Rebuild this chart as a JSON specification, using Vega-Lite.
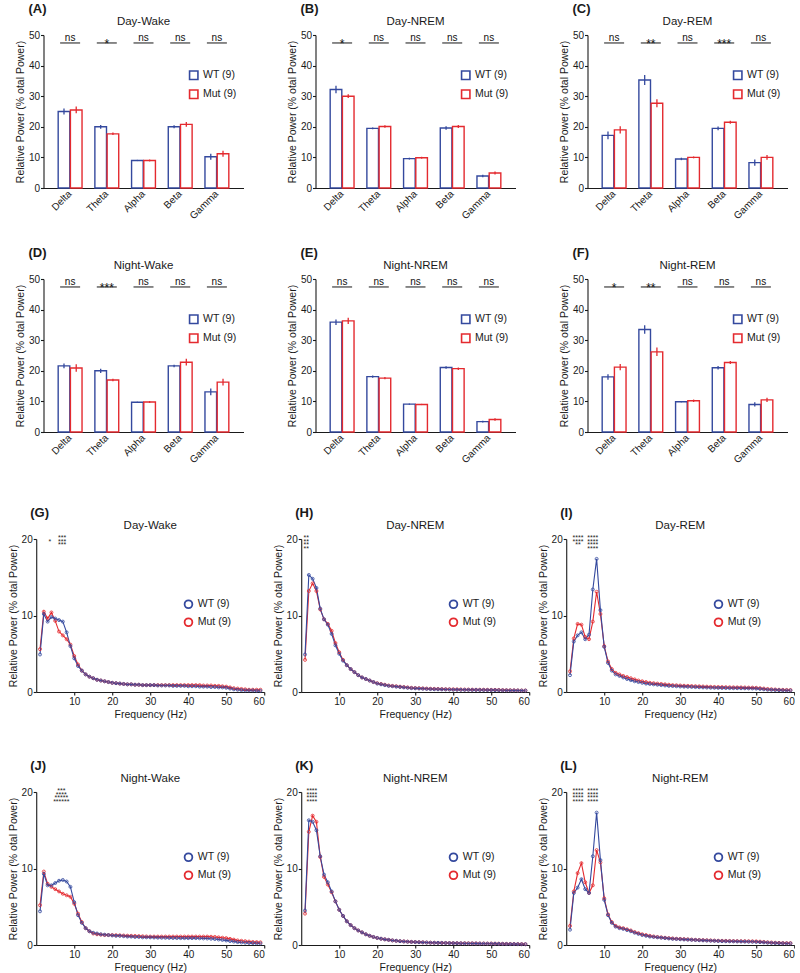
{
  "$schema": "https://vega.github.io/schema/vega-lite/v6.json",
  "background": "white",
  "padding": {"left": 8, "top": 2, "right": 0, "bottom": 0},
  "spacing": 41,
  "center": true,
  "resolve": {"scale": {"color": "independent"}, "legend": {"color": "independent"}},
  "datasets": {
    "bars": [
      {"p": "A", "b": "Delta", "g": "WT", "m": 25.0, "s": 1.0, "sig": "ns"},
      {"p": "A", "b": "Delta", "g": "Mut", "m": 25.5, "s": 1.1},
      {"p": "A", "b": "Theta", "g": "WT", "m": 20.0, "s": 0.6, "sig": "*"},
      {"p": "A", "b": "Theta", "g": "Mut", "m": 17.7, "s": 0.4},
      {"p": "A", "b": "Alpha", "g": "WT", "m": 9.0, "s": 0.2, "sig": "ns"},
      {"p": "A", "b": "Alpha", "g": "Mut", "m": 9.0, "s": 0.3},
      {"p": "A", "b": "Beta", "g": "WT", "m": 20.0, "s": 0.5, "sig": "ns"},
      {"p": "A", "b": "Beta", "g": "Mut", "m": 20.8, "s": 0.8},
      {"p": "A", "b": "Gamma", "g": "WT", "m": 10.2, "s": 1.0, "sig": "ns"},
      {"p": "A", "b": "Gamma", "g": "Mut", "m": 11.2, "s": 1.0},
      {"p": "B", "b": "Delta", "g": "WT", "m": 32.2, "s": 1.2, "sig": "*"},
      {"p": "B", "b": "Delta", "g": "Mut", "m": 30.0, "s": 0.6},
      {"p": "B", "b": "Theta", "g": "WT", "m": 19.5, "s": 0.3, "sig": "ns"},
      {"p": "B", "b": "Theta", "g": "Mut", "m": 20.1, "s": 0.4},
      {"p": "B", "b": "Alpha", "g": "WT", "m": 9.6, "s": 0.3, "sig": "ns"},
      {"p": "B", "b": "Alpha", "g": "Mut", "m": 9.9, "s": 0.3},
      {"p": "B", "b": "Beta", "g": "WT", "m": 19.6, "s": 0.6, "sig": "ns"},
      {"p": "B", "b": "Beta", "g": "Mut", "m": 20.1, "s": 0.5},
      {"p": "B", "b": "Gamma", "g": "WT", "m": 3.9, "s": 0.4, "sig": "ns"},
      {"p": "B", "b": "Gamma", "g": "Mut", "m": 4.9, "s": 0.5},
      {"p": "C", "b": "Delta", "g": "WT", "m": 17.2, "s": 1.3, "sig": "ns"},
      {"p": "C", "b": "Delta", "g": "Mut", "m": 19.0, "s": 1.2},
      {"p": "C", "b": "Theta", "g": "WT", "m": 35.3, "s": 1.6, "sig": "**"},
      {"p": "C", "b": "Theta", "g": "Mut", "m": 27.7, "s": 1.3},
      {"p": "C", "b": "Alpha", "g": "WT", "m": 9.5, "s": 0.4, "sig": "ns"},
      {"p": "C", "b": "Alpha", "g": "Mut", "m": 10.0, "s": 0.3},
      {"p": "C", "b": "Beta", "g": "WT", "m": 19.5, "s": 0.6, "sig": "***"},
      {"p": "C", "b": "Beta", "g": "Mut", "m": 21.5, "s": 0.5},
      {"p": "C", "b": "Gamma", "g": "WT", "m": 8.3, "s": 1.0, "sig": "ns"},
      {"p": "C", "b": "Gamma", "g": "Mut", "m": 10.0, "s": 0.8},
      {"p": "D", "b": "Delta", "g": "WT", "m": 21.6, "s": 0.8, "sig": "ns"},
      {"p": "D", "b": "Delta", "g": "Mut", "m": 20.9, "s": 1.2},
      {"p": "D", "b": "Theta", "g": "WT", "m": 20.0, "s": 0.7, "sig": "***"},
      {"p": "D", "b": "Theta", "g": "Mut", "m": 17.0, "s": 0.4},
      {"p": "D", "b": "Alpha", "g": "WT", "m": 9.7, "s": 0.2, "sig": "ns"},
      {"p": "D", "b": "Alpha", "g": "Mut", "m": 9.8, "s": 0.3},
      {"p": "D", "b": "Beta", "g": "WT", "m": 21.6, "s": 0.4, "sig": "ns"},
      {"p": "D", "b": "Beta", "g": "Mut", "m": 22.8, "s": 1.1},
      {"p": "D", "b": "Gamma", "g": "WT", "m": 13.1, "s": 1.1, "sig": "ns"},
      {"p": "D", "b": "Gamma", "g": "Mut", "m": 16.3, "s": 1.1},
      {"p": "E", "b": "Delta", "g": "WT", "m": 35.9, "s": 0.9, "sig": "ns"},
      {"p": "E", "b": "Delta", "g": "Mut", "m": 36.3, "s": 1.0},
      {"p": "E", "b": "Theta", "g": "WT", "m": 18.1, "s": 0.4, "sig": "ns"},
      {"p": "E", "b": "Theta", "g": "Mut", "m": 17.6, "s": 0.4},
      {"p": "E", "b": "Alpha", "g": "WT", "m": 9.1, "s": 0.2, "sig": "ns"},
      {"p": "E", "b": "Alpha", "g": "Mut", "m": 9.0, "s": 0.2},
      {"p": "E", "b": "Beta", "g": "WT", "m": 21.1, "s": 0.4, "sig": "ns"},
      {"p": "E", "b": "Beta", "g": "Mut", "m": 20.7, "s": 0.4},
      {"p": "E", "b": "Gamma", "g": "WT", "m": 3.4, "s": 0.3, "sig": "ns"},
      {"p": "E", "b": "Gamma", "g": "Mut", "m": 4.1, "s": 0.4},
      {"p": "F", "b": "Delta", "g": "WT", "m": 18.0, "s": 0.9, "sig": "*"},
      {"p": "F", "b": "Delta", "g": "Mut", "m": 21.2, "s": 1.0},
      {"p": "F", "b": "Theta", "g": "WT", "m": 33.5, "s": 1.4, "sig": "**"},
      {"p": "F", "b": "Theta", "g": "Mut", "m": 26.2, "s": 1.4},
      {"p": "F", "b": "Alpha", "g": "WT", "m": 9.9, "s": 0.2, "sig": "ns"},
      {"p": "F", "b": "Alpha", "g": "Mut", "m": 10.2, "s": 0.4},
      {"p": "F", "b": "Beta", "g": "WT", "m": 21.0, "s": 0.6, "sig": "ns"},
      {"p": "F", "b": "Beta", "g": "Mut", "m": 22.7, "s": 0.5},
      {"p": "F", "b": "Gamma", "g": "WT", "m": 9.0, "s": 0.7, "sig": "ns"},
      {"p": "F", "b": "Gamma", "g": "Mut", "m": 10.5, "s": 0.7}
    ],
    "stars": [
      {"p": "G", "f": 3.6, "t": "||*"},
      {"p": "G", "f": 6.8, "t": "***|***|***"},
      {"p": "H", "f": 1.3, "t": "**|**|**|**"},
      {"p": "I", "f": 3.1, "t": "****|****|**"},
      {"p": "I", "f": 7.0, "t": "****|****|****|****"},
      {"p": "J", "f": 6.6, "t": "***|****|*****|******"},
      {"p": "K", "f": 2.8, "t": "****|****|****|****"},
      {"p": "L", "f": 3.1, "t": "****|****|****|****"},
      {"p": "L", "f": 7.0, "t": "****|****|****|****"}
    ],
    "spec": [
      {"f": 1, "GW": 4.9, "GM": 5.6, "HW": 4.9, "HM": 4.2, "IW": 2.2, "IM": 2.7, "JW": 4.4, "JM": 5.2, "KW": 4.5, "KM": 4.1, "LW": 2.0, "LM": 2.5},
      {"f": 2, "GW": 10.2, "GM": 10.5, "HW": 15.3, "HM": 13.2, "IW": 6.6, "IM": 7.0, "JW": 9.3, "JM": 9.6, "KW": 16.3, "KM": 14.8, "LW": 6.8, "LM": 7.0},
      {"f": 3, "GW": 9.2, "GM": 9.6, "HW": 14.8, "HM": 14.2, "IW": 7.4, "IM": 8.9, "JW": 7.8, "JM": 8.0, "KW": 16.1, "KM": 16.9, "LW": 7.5, "LM": 9.4},
      {"f": 4, "GW": 9.8, "GM": 10.4, "HW": 13.6, "HM": 13.2, "IW": 7.8, "IM": 8.8, "JW": 7.8, "JM": 7.6, "KW": 15.0, "KM": 16.1, "LW": 8.6, "LM": 10.7},
      {"f": 5, "GW": 9.6, "GM": 9.3, "HW": 10.9, "HM": 10.8, "IW": 6.9, "IM": 7.2, "JW": 8.1, "JM": 7.3, "KW": 11.6, "KM": 11.5, "LW": 7.3, "LM": 8.2},
      {"f": 6, "GW": 9.4, "GM": 7.9, "HW": 9.5, "HM": 9.5, "IW": 7.5, "IM": 6.9, "JW": 8.4, "JM": 7.0, "KW": 9.2, "KM": 8.9, "LW": 6.8, "LM": 6.8},
      {"f": 7, "GW": 9.2, "GM": 7.4, "HW": 8.8, "HM": 8.9, "IW": 13.4, "IM": 9.2, "JW": 8.5, "JM": 6.7, "KW": 8.2, "KM": 7.9, "LW": 11.6, "LM": 7.8},
      {"f": 8, "GW": 7.8, "GM": 6.9, "HW": 7.6, "HM": 8.0, "IW": 17.4, "IM": 13.1, "JW": 8.3, "JM": 6.5, "KW": 7.0, "KM": 6.9, "LW": 17.3, "LM": 12.4},
      {"f": 9, "GW": 6.0, "GM": 6.2, "HW": 6.1, "HM": 6.4, "IW": 10.7, "IM": 10.2, "JW": 7.6, "JM": 6.3, "KW": 5.7, "KM": 5.7, "LW": 11.1, "LM": 10.8},
      {"f": 10, "GW": 4.4, "GM": 4.7, "HW": 5.0, "HM": 5.2, "IW": 5.9, "IM": 6.0, "JW": 5.6, "JM": 5.4, "KW": 4.6, "KM": 4.6, "LW": 5.9, "LM": 6.1},
      {"f": 11, "GW": 3.4, "GM": 3.6, "HW": 4.1, "HM": 4.2, "IW": 3.8, "IM": 4.0, "JW": 3.9, "JM": 4.1, "KW": 3.8, "KM": 3.8, "LW": 3.9, "LM": 4.0},
      {"f": 12, "GW": 2.8, "GM": 2.8, "HW": 3.5, "HM": 3.5, "IW": 2.8, "IM": 3.0, "JW": 2.9, "JM": 3.0, "KW": 3.1, "KM": 3.1, "LW": 2.9, "LM": 3.0},
      {"f": 13, "GW": 2.3, "GM": 2.3, "HW": 3.0, "HM": 3.0, "IW": 2.3, "IM": 2.5, "JW": 2.2, "JM": 2.2, "KW": 2.6, "KM": 2.6, "LW": 2.4, "LM": 2.5},
      {"f": 14, "GW": 2.0, "GM": 2.0, "HW": 2.6, "HM": 2.6, "IW": 2.1, "IM": 2.3, "JW": 1.8, "JM": 1.8, "KW": 2.2, "KM": 2.2, "LW": 2.2, "LM": 2.3},
      {"f": 15, "GW": 1.8, "GM": 1.8, "HW": 2.2, "HM": 2.2, "IW": 1.9, "IM": 2.1, "JW": 1.6, "JM": 1.5, "KW": 1.9, "KM": 1.9, "LW": 2.1, "LM": 2.2},
      {"f": 16, "GW": 1.6, "GM": 1.6, "HW": 1.9, "HM": 1.9, "IW": 1.7, "IM": 1.95, "JW": 1.5, "JM": 1.4, "KW": 1.65, "KM": 1.65, "LW": 1.95, "LM": 2.05},
      {"f": 17, "GW": 1.5, "GM": 1.5, "HW": 1.7, "HM": 1.7, "IW": 1.55, "IM": 1.8, "JW": 1.4, "JM": 1.35, "KW": 1.4, "KM": 1.4, "LW": 1.8, "LM": 1.9},
      {"f": 18, "GW": 1.4, "GM": 1.4, "HW": 1.5, "HM": 1.5, "IW": 1.4, "IM": 1.65, "JW": 1.35, "JM": 1.3, "KW": 1.2, "KM": 1.2, "LW": 1.6, "LM": 1.7},
      {"f": 19, "GW": 1.3, "GM": 1.3, "HW": 1.3, "HM": 1.3, "IW": 1.3, "IM": 1.5, "JW": 1.3, "JM": 1.3, "KW": 1.05, "KM": 1.05, "LW": 1.45, "LM": 1.55},
      {"f": 20, "GW": 1.2, "GM": 1.2, "HW": 1.1, "HM": 1.15, "IW": 1.2, "IM": 1.4, "JW": 1.25, "JM": 1.3, "KW": 0.92, "KM": 0.92, "LW": 1.3, "LM": 1.4},
      {"f": 21, "GW": 1.15, "GM": 1.15, "HW": 1.0, "HM": 1.05, "IW": 1.1, "IM": 1.3, "JW": 1.2, "JM": 1.28, "KW": 0.82, "KM": 0.82, "LW": 1.2, "LM": 1.3},
      {"f": 22, "GW": 1.1, "GM": 1.1, "HW": 0.9, "HM": 0.95, "IW": 1.05, "IM": 1.2, "JW": 1.2, "JM": 1.26, "KW": 0.74, "KM": 0.74, "LW": 1.1, "LM": 1.2},
      {"f": 23, "GW": 1.05, "GM": 1.05, "HW": 0.8, "HM": 0.85, "IW": 1.0, "IM": 1.15, "JW": 1.15, "JM": 1.24, "KW": 0.67, "KM": 0.67, "LW": 1.05, "LM": 1.12},
      {"f": 24, "GW": 1.0, "GM": 1.0, "HW": 0.75, "HM": 0.8, "IW": 0.95, "IM": 1.1, "JW": 1.1, "JM": 1.22, "KW": 0.6, "KM": 0.6, "LW": 1.0, "LM": 1.05},
      {"f": 25, "GW": 1.0, "GM": 1.0, "HW": 0.7, "HM": 0.75, "IW": 0.9, "IM": 1.05, "JW": 1.1, "JM": 1.2, "KW": 0.55, "KM": 0.55, "LW": 0.95, "LM": 1.0},
      {"f": 26, "GW": 0.95, "GM": 0.95, "HW": 0.65, "HM": 0.7, "IW": 0.85, "IM": 1.0, "JW": 1.05, "JM": 1.18, "KW": 0.5, "KM": 0.5, "LW": 0.9, "LM": 0.95},
      {"f": 27, "GW": 0.95, "GM": 0.95, "HW": 0.6, "HM": 0.65, "IW": 0.8, "IM": 0.95, "JW": 1.05, "JM": 1.16, "KW": 0.46, "KM": 0.47, "LW": 0.85, "LM": 0.9},
      {"f": 28, "GW": 0.9, "GM": 0.9, "HW": 0.55, "HM": 0.6, "IW": 0.78, "IM": 0.9, "JW": 1.0, "JM": 1.14, "KW": 0.43, "KM": 0.44, "LW": 0.8, "LM": 0.86},
      {"f": 29, "GW": 0.9, "GM": 0.9, "HW": 0.5, "HM": 0.55, "IW": 0.75, "IM": 0.88, "JW": 1.0, "JM": 1.12, "KW": 0.4, "KM": 0.41, "LW": 0.78, "LM": 0.82},
      {"f": 30, "GW": 0.9, "GM": 0.9, "HW": 0.48, "HM": 0.52, "IW": 0.72, "IM": 0.85, "JW": 1.0, "JM": 1.1, "KW": 0.38, "KM": 0.39, "LW": 0.75, "LM": 0.8},
      {"f": 31, "GW": 0.9, "GM": 0.9, "HW": 0.45, "HM": 0.5, "IW": 0.7, "IM": 0.82, "JW": 0.98, "JM": 1.1, "KW": 0.36, "KM": 0.37, "LW": 0.72, "LM": 0.77},
      {"f": 32, "GW": 0.85, "GM": 0.9, "HW": 0.43, "HM": 0.47, "IW": 0.68, "IM": 0.8, "JW": 0.96, "JM": 1.1, "KW": 0.34, "KM": 0.35, "LW": 0.7, "LM": 0.74},
      {"f": 33, "GW": 0.85, "GM": 0.9, "HW": 0.4, "HM": 0.45, "IW": 0.66, "IM": 0.78, "JW": 0.95, "JM": 1.1, "KW": 0.32, "KM": 0.33, "LW": 0.67, "LM": 0.71},
      {"f": 34, "GW": 0.85, "GM": 0.9, "HW": 0.38, "HM": 0.43, "IW": 0.64, "IM": 0.76, "JW": 0.94, "JM": 1.1, "KW": 0.3, "KM": 0.31, "LW": 0.65, "LM": 0.68},
      {"f": 35, "GW": 0.85, "GM": 0.9, "HW": 0.36, "HM": 0.41, "IW": 0.62, "IM": 0.74, "JW": 0.93, "JM": 1.1, "KW": 0.29, "KM": 0.3, "LW": 0.62, "LM": 0.66},
      {"f": 36, "GW": 0.8, "GM": 0.9, "HW": 0.35, "HM": 0.4, "IW": 0.6, "IM": 0.72, "JW": 0.92, "JM": 1.1, "KW": 0.28, "KM": 0.29, "LW": 0.6, "LM": 0.64},
      {"f": 37, "GW": 0.8, "GM": 0.9, "HW": 0.34, "HM": 0.38, "IW": 0.58, "IM": 0.7, "JW": 0.91, "JM": 1.1, "KW": 0.27, "KM": 0.28, "LW": 0.58, "LM": 0.62},
      {"f": 38, "GW": 0.8, "GM": 0.9, "HW": 0.33, "HM": 0.37, "IW": 0.56, "IM": 0.68, "JW": 0.9, "JM": 1.1, "KW": 0.26, "KM": 0.27, "LW": 0.56, "LM": 0.6},
      {"f": 39, "GW": 0.8, "GM": 0.9, "HW": 0.32, "HM": 0.36, "IW": 0.55, "IM": 0.66, "JW": 0.9, "JM": 1.1, "KW": 0.25, "KM": 0.26, "LW": 0.54, "LM": 0.58},
      {"f": 40, "GW": 0.75, "GM": 0.9, "HW": 0.3, "HM": 0.35, "IW": 0.54, "IM": 0.65, "JW": 0.9, "JM": 1.1, "KW": 0.24, "KM": 0.25, "LW": 0.52, "LM": 0.56},
      {"f": 41, "GW": 0.75, "GM": 0.9, "HW": 0.3, "HM": 0.34, "IW": 0.53, "IM": 0.64, "JW": 0.9, "JM": 1.1, "KW": 0.23, "KM": 0.24, "LW": 0.5, "LM": 0.55},
      {"f": 42, "GW": 0.75, "GM": 0.9, "HW": 0.29, "HM": 0.33, "IW": 0.52, "IM": 0.63, "JW": 0.9, "JM": 1.1, "KW": 0.22, "KM": 0.23, "LW": 0.49, "LM": 0.54},
      {"f": 43, "GW": 0.7, "GM": 0.9, "HW": 0.28, "HM": 0.32, "IW": 0.51, "IM": 0.62, "JW": 0.88, "JM": 1.1, "KW": 0.21, "KM": 0.23, "LW": 0.48, "LM": 0.53},
      {"f": 44, "GW": 0.7, "GM": 0.85, "HW": 0.28, "HM": 0.32, "IW": 0.5, "IM": 0.61, "JW": 0.86, "JM": 1.1, "KW": 0.2, "KM": 0.22, "LW": 0.47, "LM": 0.52},
      {"f": 45, "GW": 0.7, "GM": 0.85, "HW": 0.27, "HM": 0.31, "IW": 0.5, "IM": 0.6, "JW": 0.85, "JM": 1.1, "KW": 0.2, "KM": 0.22, "LW": 0.46, "LM": 0.51},
      {"f": 46, "GW": 0.65, "GM": 0.85, "HW": 0.27, "HM": 0.3, "IW": 0.49, "IM": 0.6, "JW": 0.82, "JM": 1.08, "KW": 0.19, "KM": 0.21, "LW": 0.45, "LM": 0.5},
      {"f": 47, "GW": 0.65, "GM": 0.8, "HW": 0.26, "HM": 0.3, "IW": 0.48, "IM": 0.59, "JW": 0.78, "JM": 1.05, "KW": 0.18, "KM": 0.2, "LW": 0.44, "LM": 0.5},
      {"f": 48, "GW": 0.6, "GM": 0.8, "HW": 0.26, "HM": 0.3, "IW": 0.47, "IM": 0.58, "JW": 0.72, "JM": 1.0, "KW": 0.18, "KM": 0.2, "LW": 0.43, "LM": 0.49},
      {"f": 49, "GW": 0.6, "GM": 0.75, "HW": 0.25, "HM": 0.29, "IW": 0.46, "IM": 0.57, "JW": 0.66, "JM": 0.95, "KW": 0.17, "KM": 0.19, "LW": 0.42, "LM": 0.48},
      {"f": 50, "GW": 0.55, "GM": 0.7, "HW": 0.25, "HM": 0.28, "IW": 0.44, "IM": 0.55, "JW": 0.6, "JM": 0.9, "KW": 0.17, "KM": 0.19, "LW": 0.4, "LM": 0.47},
      {"f": 51, "GW": 0.45, "GM": 0.6, "HW": 0.24, "HM": 0.28, "IW": 0.4, "IM": 0.5, "JW": 0.52, "JM": 0.8, "KW": 0.16, "KM": 0.18, "LW": 0.37, "LM": 0.44},
      {"f": 52, "GW": 0.35, "GM": 0.5, "HW": 0.23, "HM": 0.27, "IW": 0.35, "IM": 0.45, "JW": 0.45, "JM": 0.7, "KW": 0.15, "KM": 0.17, "LW": 0.34, "LM": 0.4},
      {"f": 53, "GW": 0.3, "GM": 0.45, "HW": 0.22, "HM": 0.25, "IW": 0.3, "IM": 0.4, "JW": 0.38, "JM": 0.6, "KW": 0.14, "KM": 0.16, "LW": 0.3, "LM": 0.36},
      {"f": 54, "GW": 0.25, "GM": 0.4, "HW": 0.21, "HM": 0.24, "IW": 0.28, "IM": 0.36, "JW": 0.33, "JM": 0.55, "KW": 0.13, "KM": 0.15, "LW": 0.27, "LM": 0.33},
      {"f": 55, "GW": 0.2, "GM": 0.35, "HW": 0.2, "HM": 0.23, "IW": 0.26, "IM": 0.33, "JW": 0.3, "JM": 0.5, "KW": 0.12, "KM": 0.14, "LW": 0.25, "LM": 0.3},
      {"f": 56, "GW": 0.2, "GM": 0.3, "HW": 0.2, "HM": 0.22, "IW": 0.24, "IM": 0.3, "JW": 0.27, "JM": 0.45, "KW": 0.12, "KM": 0.13, "LW": 0.23, "LM": 0.28},
      {"f": 57, "GW": 0.2, "GM": 0.3, "HW": 0.19, "HM": 0.21, "IW": 0.22, "IM": 0.28, "JW": 0.25, "JM": 0.4, "KW": 0.11, "KM": 0.12, "LW": 0.22, "LM": 0.26},
      {"f": 58, "GW": 0.15, "GM": 0.3, "HW": 0.18, "HM": 0.2, "IW": 0.2, "IM": 0.27, "JW": 0.22, "JM": 0.38, "KW": 0.1, "KM": 0.12, "LW": 0.2, "LM": 0.25},
      {"f": 59, "GW": 0.15, "GM": 0.3, "HW": 0.18, "HM": 0.2, "IW": 0.2, "IM": 0.26, "JW": 0.2, "JM": 0.35, "KW": 0.1, "KM": 0.11, "LW": 0.2, "LM": 0.25}
    ]
  },
  "vconcat": [
    {
      "spacing": 25,
      "resolve": {"scale": {"color": "independent"}, "legend": {"color": "independent"}},
      "vconcat": [
        {
          "spacing": 43,
          "resolve": {"scale": {"color": "independent"}, "legend": {"color": "independent"}},
          "hconcat": [
            {
              "title": {"text": "(A)", "anchor": "start", "frame": "group", "fontWeight": "bold", "fontSize": 13, "dx": -15, "offset": 0},
              "resolve": {"scale": {"color": "independent"}, "legend": {"color": "independent"}},
              "hconcat": [{
                "title": {"text": "Day-Wake", "frame": "group", "offset": 3},
                "width": 200, "height": 153,
                "data": {"name": "bars"},
                "transform": [{"filter": "datum.p == 'A'"}],
                "encoding": {
                  "x": {"field": "b", "type": "nominal", "sort": ["Delta", "Theta", "Alpha", "Beta", "Gamma"], "scale": {"paddingInner": 0.35, "paddingOuter": 0.4}, "title": null, "axis": {"labelAngle": -45, "labelAlign": "right", "labelBaseline": "middle", "ticks": false, "labelPadding": 4}},
                  "y": {"field": "m", "type": "quantitative", "scale": {"domain": [0, 50], "nice": false}, "axis": {"values": [0, 10, 20, 30, 40, 50]}, "title": "Relative Power (% otal Power)"}
                },
                "layer": [
                  {"mark": {"type": "bar", "filled": false, "strokeWidth": 1.4},
                   "encoding": {"xOffset": {"field": "g", "type": "nominal", "scale": {"domain": ["WT", "Mut"], "paddingInner": 0.05}},
                     "color": {"field": "g", "type": "nominal", "scale": {"domain": ["WT", "Mut"], "range": ["#34499e", "#e42a2f"]}, "legend": {"title": null, "orient": "none", "legendX": 145, "legendY": 35, "symbolType": "square", "symbolSize": 70, "symbolStrokeWidth": 1.6, "labelFontSize": 10.5, "rowPadding": 3, "padding": 0, "labelExpr": "datum.label + ' (9)'"}}}},
                  {"mark": {"type": "errorbar", "thickness": 1.3},
                   "encoding": {"xOffset": {"field": "g", "type": "nominal"}, "yError": {"field": "s"}, "color": {"field": "g", "type": "nominal"}}},
                  {"transform": [{"filter": "datum.sig"}], "mark": {"type": "tick", "size": 20, "thickness": 1.4, "color": "#111"}, "encoding": {"y": {"datum": 47.4}}},
                  {"transform": [{"filter": "datum.sig == 'ns'"}], "mark": {"type": "text", "fontSize": 10, "baseline": "alphabetic", "dy": -2, "color": "#111"}, "encoding": {"y": {"datum": 47.4}, "text": {"field": "sig"}}},
                  {"transform": [{"filter": "datum.sig && datum.sig != 'ns'"}], "mark": {"type": "text", "fontSize": 12, "baseline": "alphabetic", "dy": 5, "color": "#111"}, "encoding": {"y": {"datum": 47.4}, "text": {"field": "sig"}}}
                ]
              }]
            },
            {
              "title": {"text": "(B)", "anchor": "start", "frame": "group", "fontWeight": "bold", "fontSize": 13, "dx": -15, "offset": 0},
              "resolve": {"scale": {"color": "independent"}, "legend": {"color": "independent"}},
              "hconcat": [{
                "title": {"text": "Day-NREM", "frame": "group", "offset": 3},
                "width": 200, "height": 153,
                "data": {"name": "bars"},
                "transform": [{"filter": "datum.p == 'B'"}],
                "encoding": {
                  "x": {"field": "b", "type": "nominal", "sort": ["Delta", "Theta", "Alpha", "Beta", "Gamma"], "scale": {"paddingInner": 0.35, "paddingOuter": 0.4}, "title": null, "axis": {"labelAngle": -45, "labelAlign": "right", "labelBaseline": "middle", "ticks": false, "labelPadding": 4}},
                  "y": {"field": "m", "type": "quantitative", "scale": {"domain": [0, 50], "nice": false}, "axis": {"values": [0, 10, 20, 30, 40, 50]}, "title": "Relative Power (% otal Power)"}
                },
                "layer": [
                  {"mark": {"type": "bar", "filled": false, "strokeWidth": 1.4},
                   "encoding": {"xOffset": {"field": "g", "type": "nominal", "scale": {"domain": ["WT", "Mut"], "paddingInner": 0.05}},
                     "color": {"field": "g", "type": "nominal", "scale": {"domain": ["WT", "Mut"], "range": ["#34499e", "#e42a2f"]}, "legend": {"title": null, "orient": "none", "legendX": 145, "legendY": 35, "symbolType": "square", "symbolSize": 70, "symbolStrokeWidth": 1.6, "labelFontSize": 10.5, "rowPadding": 3, "padding": 0, "labelExpr": "datum.label + ' (9)'"}}}},
                  {"mark": {"type": "errorbar", "thickness": 1.3},
                   "encoding": {"xOffset": {"field": "g", "type": "nominal"}, "yError": {"field": "s"}, "color": {"field": "g", "type": "nominal"}}},
                  {"transform": [{"filter": "datum.sig"}], "mark": {"type": "tick", "size": 20, "thickness": 1.4, "color": "#111"}, "encoding": {"y": {"datum": 47.4}}},
                  {"transform": [{"filter": "datum.sig == 'ns'"}], "mark": {"type": "text", "fontSize": 10, "baseline": "alphabetic", "dy": -2, "color": "#111"}, "encoding": {"y": {"datum": 47.4}, "text": {"field": "sig"}}},
                  {"transform": [{"filter": "datum.sig && datum.sig != 'ns'"}], "mark": {"type": "text", "fontSize": 12, "baseline": "alphabetic", "dy": 5, "color": "#111"}, "encoding": {"y": {"datum": 47.4}, "text": {"field": "sig"}}}
                ]
              }]
            },
            {
              "title": {"text": "(C)", "anchor": "start", "frame": "group", "fontWeight": "bold", "fontSize": 13, "dx": -15, "offset": 0},
              "resolve": {"scale": {"color": "independent"}, "legend": {"color": "independent"}},
              "hconcat": [{
                "title": {"text": "Day-REM", "frame": "group", "offset": 3},
                "width": 200, "height": 153,
                "data": {"name": "bars"},
                "transform": [{"filter": "datum.p == 'C'"}],
                "encoding": {
                  "x": {"field": "b", "type": "nominal", "sort": ["Delta", "Theta", "Alpha", "Beta", "Gamma"], "scale": {"paddingInner": 0.35, "paddingOuter": 0.4}, "title": null, "axis": {"labelAngle": -45, "labelAlign": "right", "labelBaseline": "middle", "ticks": false, "labelPadding": 4}},
                  "y": {"field": "m", "type": "quantitative", "scale": {"domain": [0, 50], "nice": false}, "axis": {"values": [0, 10, 20, 30, 40, 50]}, "title": "Relative Power (% otal Power)"}
                },
                "layer": [
                  {"mark": {"type": "bar", "filled": false, "strokeWidth": 1.4},
                   "encoding": {"xOffset": {"field": "g", "type": "nominal", "scale": {"domain": ["WT", "Mut"], "paddingInner": 0.05}},
                     "color": {"field": "g", "type": "nominal", "scale": {"domain": ["WT", "Mut"], "range": ["#34499e", "#e42a2f"]}, "legend": {"title": null, "orient": "none", "legendX": 145, "legendY": 35, "symbolType": "square", "symbolSize": 70, "symbolStrokeWidth": 1.6, "labelFontSize": 10.5, "rowPadding": 3, "padding": 0, "labelExpr": "datum.label + ' (9)'"}}}},
                  {"mark": {"type": "errorbar", "thickness": 1.3},
                   "encoding": {"xOffset": {"field": "g", "type": "nominal"}, "yError": {"field": "s"}, "color": {"field": "g", "type": "nominal"}}},
                  {"transform": [{"filter": "datum.sig"}], "mark": {"type": "tick", "size": 20, "thickness": 1.4, "color": "#111"}, "encoding": {"y": {"datum": 47.4}}},
                  {"transform": [{"filter": "datum.sig == 'ns'"}], "mark": {"type": "text", "fontSize": 10, "baseline": "alphabetic", "dy": -2, "color": "#111"}, "encoding": {"y": {"datum": 47.4}, "text": {"field": "sig"}}},
                  {"transform": [{"filter": "datum.sig && datum.sig != 'ns'"}], "mark": {"type": "text", "fontSize": 12, "baseline": "alphabetic", "dy": 5, "color": "#111"}, "encoding": {"y": {"datum": 47.4}, "text": {"field": "sig"}}}
                ]
              }]
            }
          ]
        },
        {
          "spacing": 43,
          "resolve": {"scale": {"color": "independent"}, "legend": {"color": "independent"}},
          "hconcat": [
            {
              "title": {"text": "(D)", "anchor": "start", "frame": "group", "fontWeight": "bold", "fontSize": 13, "dx": -15, "offset": 0},
              "resolve": {"scale": {"color": "independent"}, "legend": {"color": "independent"}},
              "hconcat": [{
                "title": {"text": "Night-Wake", "frame": "group", "offset": 3},
                "width": 200, "height": 153,
                "data": {"name": "bars"},
                "transform": [{"filter": "datum.p == 'D'"}],
                "encoding": {
                  "x": {"field": "b", "type": "nominal", "sort": ["Delta", "Theta", "Alpha", "Beta", "Gamma"], "scale": {"paddingInner": 0.35, "paddingOuter": 0.4}, "title": null, "axis": {"labelAngle": -45, "labelAlign": "right", "labelBaseline": "middle", "ticks": false, "labelPadding": 4}},
                  "y": {"field": "m", "type": "quantitative", "scale": {"domain": [0, 50], "nice": false}, "axis": {"values": [0, 10, 20, 30, 40, 50]}, "title": "Relative Power (% otal Power)"}
                },
                "layer": [
                  {"mark": {"type": "bar", "filled": false, "strokeWidth": 1.4},
                   "encoding": {"xOffset": {"field": "g", "type": "nominal", "scale": {"domain": ["WT", "Mut"], "paddingInner": 0.05}},
                     "color": {"field": "g", "type": "nominal", "scale": {"domain": ["WT", "Mut"], "range": ["#34499e", "#e42a2f"]}, "legend": {"title": null, "orient": "none", "legendX": 145, "legendY": 35, "symbolType": "square", "symbolSize": 70, "symbolStrokeWidth": 1.6, "labelFontSize": 10.5, "rowPadding": 3, "padding": 0, "labelExpr": "datum.label + ' (9)'"}}}},
                  {"mark": {"type": "errorbar", "thickness": 1.3},
                   "encoding": {"xOffset": {"field": "g", "type": "nominal"}, "yError": {"field": "s"}, "color": {"field": "g", "type": "nominal"}}},
                  {"transform": [{"filter": "datum.sig"}], "mark": {"type": "tick", "size": 20, "thickness": 1.4, "color": "#111"}, "encoding": {"y": {"datum": 47.4}}},
                  {"transform": [{"filter": "datum.sig == 'ns'"}], "mark": {"type": "text", "fontSize": 10, "baseline": "alphabetic", "dy": -2, "color": "#111"}, "encoding": {"y": {"datum": 47.4}, "text": {"field": "sig"}}},
                  {"transform": [{"filter": "datum.sig && datum.sig != 'ns'"}], "mark": {"type": "text", "fontSize": 12, "baseline": "alphabetic", "dy": 5, "color": "#111"}, "encoding": {"y": {"datum": 47.4}, "text": {"field": "sig"}}}
                ]
              }]
            },
            {
              "title": {"text": "(E)", "anchor": "start", "frame": "group", "fontWeight": "bold", "fontSize": 13, "dx": -15, "offset": 0},
              "resolve": {"scale": {"color": "independent"}, "legend": {"color": "independent"}},
              "hconcat": [{
                "title": {"text": "Night-NREM", "frame": "group", "offset": 3},
                "width": 200, "height": 153,
                "data": {"name": "bars"},
                "transform": [{"filter": "datum.p == 'E'"}],
                "encoding": {
                  "x": {"field": "b", "type": "nominal", "sort": ["Delta", "Theta", "Alpha", "Beta", "Gamma"], "scale": {"paddingInner": 0.35, "paddingOuter": 0.4}, "title": null, "axis": {"labelAngle": -45, "labelAlign": "right", "labelBaseline": "middle", "ticks": false, "labelPadding": 4}},
                  "y": {"field": "m", "type": "quantitative", "scale": {"domain": [0, 50], "nice": false}, "axis": {"values": [0, 10, 20, 30, 40, 50]}, "title": "Relative Power (% otal Power)"}
                },
                "layer": [
                  {"mark": {"type": "bar", "filled": false, "strokeWidth": 1.4},
                   "encoding": {"xOffset": {"field": "g", "type": "nominal", "scale": {"domain": ["WT", "Mut"], "paddingInner": 0.05}},
                     "color": {"field": "g", "type": "nominal", "scale": {"domain": ["WT", "Mut"], "range": ["#34499e", "#e42a2f"]}, "legend": {"title": null, "orient": "none", "legendX": 145, "legendY": 35, "symbolType": "square", "symbolSize": 70, "symbolStrokeWidth": 1.6, "labelFontSize": 10.5, "rowPadding": 3, "padding": 0, "labelExpr": "datum.label + ' (9)'"}}}},
                  {"mark": {"type": "errorbar", "thickness": 1.3},
                   "encoding": {"xOffset": {"field": "g", "type": "nominal"}, "yError": {"field": "s"}, "color": {"field": "g", "type": "nominal"}}},
                  {"transform": [{"filter": "datum.sig"}], "mark": {"type": "tick", "size": 20, "thickness": 1.4, "color": "#111"}, "encoding": {"y": {"datum": 47.4}}},
                  {"transform": [{"filter": "datum.sig == 'ns'"}], "mark": {"type": "text", "fontSize": 10, "baseline": "alphabetic", "dy": -2, "color": "#111"}, "encoding": {"y": {"datum": 47.4}, "text": {"field": "sig"}}},
                  {"transform": [{"filter": "datum.sig && datum.sig != 'ns'"}], "mark": {"type": "text", "fontSize": 12, "baseline": "alphabetic", "dy": 5, "color": "#111"}, "encoding": {"y": {"datum": 47.4}, "text": {"field": "sig"}}}
                ]
              }]
            },
            {
              "title": {"text": "(F)", "anchor": "start", "frame": "group", "fontWeight": "bold", "fontSize": 13, "dx": -15, "offset": 0},
              "resolve": {"scale": {"color": "independent"}, "legend": {"color": "independent"}},
              "hconcat": [{
                "title": {"text": "Night-REM", "frame": "group", "offset": 3},
                "width": 200, "height": 153,
                "data": {"name": "bars"},
                "transform": [{"filter": "datum.p == 'F'"}],
                "encoding": {
                  "x": {"field": "b", "type": "nominal", "sort": ["Delta", "Theta", "Alpha", "Beta", "Gamma"], "scale": {"paddingInner": 0.35, "paddingOuter": 0.4}, "title": null, "axis": {"labelAngle": -45, "labelAlign": "right", "labelBaseline": "middle", "ticks": false, "labelPadding": 4}},
                  "y": {"field": "m", "type": "quantitative", "scale": {"domain": [0, 50], "nice": false}, "axis": {"values": [0, 10, 20, 30, 40, 50]}, "title": "Relative Power (% otal Power)"}
                },
                "layer": [
                  {"mark": {"type": "bar", "filled": false, "strokeWidth": 1.4},
                   "encoding": {"xOffset": {"field": "g", "type": "nominal", "scale": {"domain": ["WT", "Mut"], "paddingInner": 0.05}},
                     "color": {"field": "g", "type": "nominal", "scale": {"domain": ["WT", "Mut"], "range": ["#34499e", "#e42a2f"]}, "legend": {"title": null, "orient": "none", "legendX": 145, "legendY": 35, "symbolType": "square", "symbolSize": 70, "symbolStrokeWidth": 1.6, "labelFontSize": 10.5, "rowPadding": 3, "padding": 0, "labelExpr": "datum.label + ' (9)'"}}}},
                  {"mark": {"type": "errorbar", "thickness": 1.3},
                   "encoding": {"xOffset": {"field": "g", "type": "nominal"}, "yError": {"field": "s"}, "color": {"field": "g", "type": "nominal"}}},
                  {"transform": [{"filter": "datum.sig"}], "mark": {"type": "tick", "size": 20, "thickness": 1.4, "color": "#111"}, "encoding": {"y": {"datum": 47.4}}},
                  {"transform": [{"filter": "datum.sig == 'ns'"}], "mark": {"type": "text", "fontSize": 10, "baseline": "alphabetic", "dy": -2, "color": "#111"}, "encoding": {"y": {"datum": 47.4}, "text": {"field": "sig"}}},
                  {"transform": [{"filter": "datum.sig && datum.sig != 'ns'"}], "mark": {"type": "text", "fontSize": 12, "baseline": "alphabetic", "dy": 5, "color": "#111"}, "encoding": {"y": {"datum": 47.4}, "text": {"field": "sig"}}}
                ]
              }]
            }
          ]
        }
      ]
    },
    {
      "spacing": 39,
      "resolve": {"scale": {"color": "independent"}, "legend": {"color": "independent"}},
      "vconcat": [
        {
          "spacing": 7,
          "resolve": {"scale": {"color": "independent"}, "legend": {"color": "independent"}},
          "hconcat": [
            {
              "title": {"text": "(G)", "anchor": "start", "frame": "group", "fontWeight": "bold", "fontSize": 13, "dx": -6, "offset": 0},
              "resolve": {"scale": {"color": "independent"}, "legend": {"color": "independent"}},
              "hconcat": [{
                "title": {"text": "Day-Wake", "frame": "group", "offset": 3},
                "width": 228, "height": 153,
                "encoding": {"x": {"field": "f", "type": "quantitative", "scale": {"domain": [0, 60], "nice": false}, "axis": {"values": [10, 20, 30, 40, 50, 60]}, "title": "Frequency (Hz)"}},
                "layer": [
                  {"data": {"name": "spec"}, "transform": [{"fold": ["GM", "GW"], "as": ["k", "v"]}],
                   "mark": {"type": "line", "strokeWidth": 1.1},
                   "encoding": {"y": {"field": "v", "type": "quantitative", "scale": {"domain": [0, 20], "nice": false}, "axis": {"values": [0, 5, 10, 15, 20]}, "title": "Relative Power (% otal Power)"},
                     "color": {"field": "k", "type": "nominal", "scale": {"domain": ["GW", "GM"], "range": ["#34499e", "#e42a2f"]}, "legend": {"title": null, "orient": "none", "legendX": 147, "legendY": 60, "symbolType": "circle", "symbolSize": 60, "symbolStrokeWidth": 1.8, "labelFontSize": 10.5, "rowPadding": 2, "padding": 0, "labelExpr": "substring(datum.label, 1) == 'W' ? 'WT (9)' : 'Mut (9)'"}}}},
                  {"data": {"name": "spec"}, "transform": [{"fold": ["GM", "GW"], "as": ["k", "v"]}],
                   "mark": {"type": "point", "filled": false, "size": 9, "strokeWidth": 0.8, "opacity": 1},
                   "encoding": {"y": {"field": "v", "type": "quantitative"}, "color": {"field": "k", "type": "nominal"}}},
                  {"data": {"name": "stars"}, "transform": [{"filter": "datum.p == 'G'"}],
                   "mark": {"type": "text", "fontSize": 7, "lineBreak": "|", "lineHeight": 3.6, "baseline": "top", "dy": -5, "color": "#222"},
                   "encoding": {"y": {"datum": 20}, "text": {"field": "t"}}}
                ]
              }]
            },
            {
              "title": {"text": "(H)", "anchor": "start", "frame": "group", "fontWeight": "bold", "fontSize": 13, "dx": -6, "offset": 0},
              "resolve": {"scale": {"color": "independent"}, "legend": {"color": "independent"}},
              "hconcat": [{
                "title": {"text": "Day-NREM", "frame": "group", "offset": 3},
                "width": 228, "height": 153,
                "encoding": {"x": {"field": "f", "type": "quantitative", "scale": {"domain": [0, 60], "nice": false}, "axis": {"values": [10, 20, 30, 40, 50, 60]}, "title": "Frequency (Hz)"}},
                "layer": [
                  {"data": {"name": "spec"}, "transform": [{"fold": ["HM", "HW"], "as": ["k", "v"]}],
                   "mark": {"type": "line", "strokeWidth": 1.1},
                   "encoding": {"y": {"field": "v", "type": "quantitative", "scale": {"domain": [0, 20], "nice": false}, "axis": {"values": [0, 5, 10, 15, 20]}, "title": "Relative Power (% otal Power)"},
                     "color": {"field": "k", "type": "nominal", "scale": {"domain": ["HW", "HM"], "range": ["#34499e", "#e42a2f"]}, "legend": {"title": null, "orient": "none", "legendX": 147, "legendY": 60, "symbolType": "circle", "symbolSize": 60, "symbolStrokeWidth": 1.8, "labelFontSize": 10.5, "rowPadding": 2, "padding": 0, "labelExpr": "substring(datum.label, 1) == 'W' ? 'WT (9)' : 'Mut (9)'"}}}},
                  {"data": {"name": "spec"}, "transform": [{"fold": ["HM", "HW"], "as": ["k", "v"]}],
                   "mark": {"type": "point", "filled": false, "size": 9, "strokeWidth": 0.8, "opacity": 1},
                   "encoding": {"y": {"field": "v", "type": "quantitative"}, "color": {"field": "k", "type": "nominal"}}},
                  {"data": {"name": "stars"}, "transform": [{"filter": "datum.p == 'H'"}],
                   "mark": {"type": "text", "fontSize": 7, "lineBreak": "|", "lineHeight": 3.6, "baseline": "top", "dy": -5, "color": "#222"},
                   "encoding": {"y": {"datum": 20}, "text": {"field": "t"}}}
                ]
              }]
            },
            {
              "title": {"text": "(I)", "anchor": "start", "frame": "group", "fontWeight": "bold", "fontSize": 13, "dx": -6, "offset": 0},
              "resolve": {"scale": {"color": "independent"}, "legend": {"color": "independent"}},
              "hconcat": [{
                "title": {"text": "Day-REM", "frame": "group", "offset": 3},
                "width": 228, "height": 153,
                "encoding": {"x": {"field": "f", "type": "quantitative", "scale": {"domain": [0, 60], "nice": false}, "axis": {"values": [10, 20, 30, 40, 50, 60]}, "title": "Frequency (Hz)"}},
                "layer": [
                  {"data": {"name": "spec"}, "transform": [{"fold": ["IM", "IW"], "as": ["k", "v"]}],
                   "mark": {"type": "line", "strokeWidth": 1.1},
                   "encoding": {"y": {"field": "v", "type": "quantitative", "scale": {"domain": [0, 20], "nice": false}, "axis": {"values": [0, 5, 10, 15, 20]}, "title": "Relative Power (% otal Power)"},
                     "color": {"field": "k", "type": "nominal", "scale": {"domain": ["IW", "IM"], "range": ["#34499e", "#e42a2f"]}, "legend": {"title": null, "orient": "none", "legendX": 147, "legendY": 60, "symbolType": "circle", "symbolSize": 60, "symbolStrokeWidth": 1.8, "labelFontSize": 10.5, "rowPadding": 2, "padding": 0, "labelExpr": "substring(datum.label, 1) == 'W' ? 'WT (9)' : 'Mut (9)'"}}}},
                  {"data": {"name": "spec"}, "transform": [{"fold": ["IM", "IW"], "as": ["k", "v"]}],
                   "mark": {"type": "point", "filled": false, "size": 9, "strokeWidth": 0.8, "opacity": 1},
                   "encoding": {"y": {"field": "v", "type": "quantitative"}, "color": {"field": "k", "type": "nominal"}}},
                  {"data": {"name": "stars"}, "transform": [{"filter": "datum.p == 'I'"}],
                   "mark": {"type": "text", "fontSize": 7, "lineBreak": "|", "lineHeight": 3.6, "baseline": "top", "dy": -5, "color": "#222"},
                   "encoding": {"y": {"datum": 20}, "text": {"field": "t"}}}
                ]
              }]
            }
          ]
        },
        {
          "spacing": 7,
          "resolve": {"scale": {"color": "independent"}, "legend": {"color": "independent"}},
          "hconcat": [
            {
              "title": {"text": "(J)", "anchor": "start", "frame": "group", "fontWeight": "bold", "fontSize": 13, "dx": -6, "offset": 0},
              "resolve": {"scale": {"color": "independent"}, "legend": {"color": "independent"}},
              "hconcat": [{
                "title": {"text": "Night-Wake", "frame": "group", "offset": 3},
                "width": 228, "height": 153,
                "encoding": {"x": {"field": "f", "type": "quantitative", "scale": {"domain": [0, 60], "nice": false}, "axis": {"values": [10, 20, 30, 40, 50, 60]}, "title": "Frequency (Hz)"}},
                "layer": [
                  {"data": {"name": "spec"}, "transform": [{"fold": ["JM", "JW"], "as": ["k", "v"]}],
                   "mark": {"type": "line", "strokeWidth": 1.1},
                   "encoding": {"y": {"field": "v", "type": "quantitative", "scale": {"domain": [0, 20], "nice": false}, "axis": {"values": [0, 5, 10, 15, 20]}, "title": "Relative Power (% otal Power)"},
                     "color": {"field": "k", "type": "nominal", "scale": {"domain": ["JW", "JM"], "range": ["#34499e", "#e42a2f"]}, "legend": {"title": null, "orient": "none", "legendX": 147, "legendY": 60, "symbolType": "circle", "symbolSize": 60, "symbolStrokeWidth": 1.8, "labelFontSize": 10.5, "rowPadding": 2, "padding": 0, "labelExpr": "substring(datum.label, 1) == 'W' ? 'WT (9)' : 'Mut (9)'"}}}},
                  {"data": {"name": "spec"}, "transform": [{"fold": ["JM", "JW"], "as": ["k", "v"]}],
                   "mark": {"type": "point", "filled": false, "size": 9, "strokeWidth": 0.8, "opacity": 1},
                   "encoding": {"y": {"field": "v", "type": "quantitative"}, "color": {"field": "k", "type": "nominal"}}},
                  {"data": {"name": "stars"}, "transform": [{"filter": "datum.p == 'J'"}],
                   "mark": {"type": "text", "fontSize": 7, "lineBreak": "|", "lineHeight": 3.6, "baseline": "top", "dy": -5, "color": "#222"},
                   "encoding": {"y": {"datum": 20}, "text": {"field": "t"}}}
                ]
              }]
            },
            {
              "title": {"text": "(K)", "anchor": "start", "frame": "group", "fontWeight": "bold", "fontSize": 13, "dx": -6, "offset": 0},
              "resolve": {"scale": {"color": "independent"}, "legend": {"color": "independent"}},
              "hconcat": [{
                "title": {"text": "Night-NREM", "frame": "group", "offset": 3},
                "width": 228, "height": 153,
                "encoding": {"x": {"field": "f", "type": "quantitative", "scale": {"domain": [0, 60], "nice": false}, "axis": {"values": [10, 20, 30, 40, 50, 60]}, "title": "Frequency (Hz)"}},
                "layer": [
                  {"data": {"name": "spec"}, "transform": [{"fold": ["KM", "KW"], "as": ["k", "v"]}],
                   "mark": {"type": "line", "strokeWidth": 1.1},
                   "encoding": {"y": {"field": "v", "type": "quantitative", "scale": {"domain": [0, 20], "nice": false}, "axis": {"values": [0, 5, 10, 15, 20]}, "title": "Relative Power (% otal Power)"},
                     "color": {"field": "k", "type": "nominal", "scale": {"domain": ["KW", "KM"], "range": ["#34499e", "#e42a2f"]}, "legend": {"title": null, "orient": "none", "legendX": 147, "legendY": 60, "symbolType": "circle", "symbolSize": 60, "symbolStrokeWidth": 1.8, "labelFontSize": 10.5, "rowPadding": 2, "padding": 0, "labelExpr": "substring(datum.label, 1) == 'W' ? 'WT (9)' : 'Mut (9)'"}}}},
                  {"data": {"name": "spec"}, "transform": [{"fold": ["KM", "KW"], "as": ["k", "v"]}],
                   "mark": {"type": "point", "filled": false, "size": 9, "strokeWidth": 0.8, "opacity": 1},
                   "encoding": {"y": {"field": "v", "type": "quantitative"}, "color": {"field": "k", "type": "nominal"}}},
                  {"data": {"name": "stars"}, "transform": [{"filter": "datum.p == 'K'"}],
                   "mark": {"type": "text", "fontSize": 7, "lineBreak": "|", "lineHeight": 3.6, "baseline": "top", "dy": -5, "color": "#222"},
                   "encoding": {"y": {"datum": 20}, "text": {"field": "t"}}}
                ]
              }]
            },
            {
              "title": {"text": "(L)", "anchor": "start", "frame": "group", "fontWeight": "bold", "fontSize": 13, "dx": -6, "offset": 0},
              "resolve": {"scale": {"color": "independent"}, "legend": {"color": "independent"}},
              "hconcat": [{
                "title": {"text": "Night-REM", "frame": "group", "offset": 3},
                "width": 228, "height": 153,
                "encoding": {"x": {"field": "f", "type": "quantitative", "scale": {"domain": [0, 60], "nice": false}, "axis": {"values": [10, 20, 30, 40, 50, 60]}, "title": "Frequency (Hz)"}},
                "layer": [
                  {"data": {"name": "spec"}, "transform": [{"fold": ["LM", "LW"], "as": ["k", "v"]}],
                   "mark": {"type": "line", "strokeWidth": 1.1},
                   "encoding": {"y": {"field": "v", "type": "quantitative", "scale": {"domain": [0, 20], "nice": false}, "axis": {"values": [0, 5, 10, 15, 20]}, "title": "Relative Power (% otal Power)"},
                     "color": {"field": "k", "type": "nominal", "scale": {"domain": ["LW", "LM"], "range": ["#34499e", "#e42a2f"]}, "legend": {"title": null, "orient": "none", "legendX": 147, "legendY": 60, "symbolType": "circle", "symbolSize": 60, "symbolStrokeWidth": 1.8, "labelFontSize": 10.5, "rowPadding": 2, "padding": 0, "labelExpr": "substring(datum.label, 1) == 'W' ? 'WT (9)' : 'Mut (9)'"}}}},
                  {"data": {"name": "spec"}, "transform": [{"fold": ["LM", "LW"], "as": ["k", "v"]}],
                   "mark": {"type": "point", "filled": false, "size": 9, "strokeWidth": 0.8, "opacity": 1},
                   "encoding": {"y": {"field": "v", "type": "quantitative"}, "color": {"field": "k", "type": "nominal"}}},
                  {"data": {"name": "stars"}, "transform": [{"filter": "datum.p == 'L'"}],
                   "mark": {"type": "text", "fontSize": 7, "lineBreak": "|", "lineHeight": 3.6, "baseline": "top", "dy": -5, "color": "#222"},
                   "encoding": {"y": {"datum": 20}, "text": {"field": "t"}}}
                ]
              }]
            }
          ]
        }
      ]
    }
  ],
  "config": {
    "font": "Liberation Sans",
    "view": {"stroke": null},
    "title": {"fontSize": 11.5, "fontWeight": "normal", "color": "#1a1a1a"},
    "axis": {"grid": false, "domainColor": "#1a1a1a", "tickColor": "#1a1a1a", "labelColor": "#1a1a1a", "titleColor": "#1a1a1a", "labelFontSize": 10, "titleFontSize": 10.5, "titleFontWeight": "normal", "tickSize": 3, "domainWidth": 1.1, "tickWidth": 1.1, "labelPadding": 1, "titlePadding": 3},
    "legend": {"labelColor": "#1a1a1a"}
  }
}
